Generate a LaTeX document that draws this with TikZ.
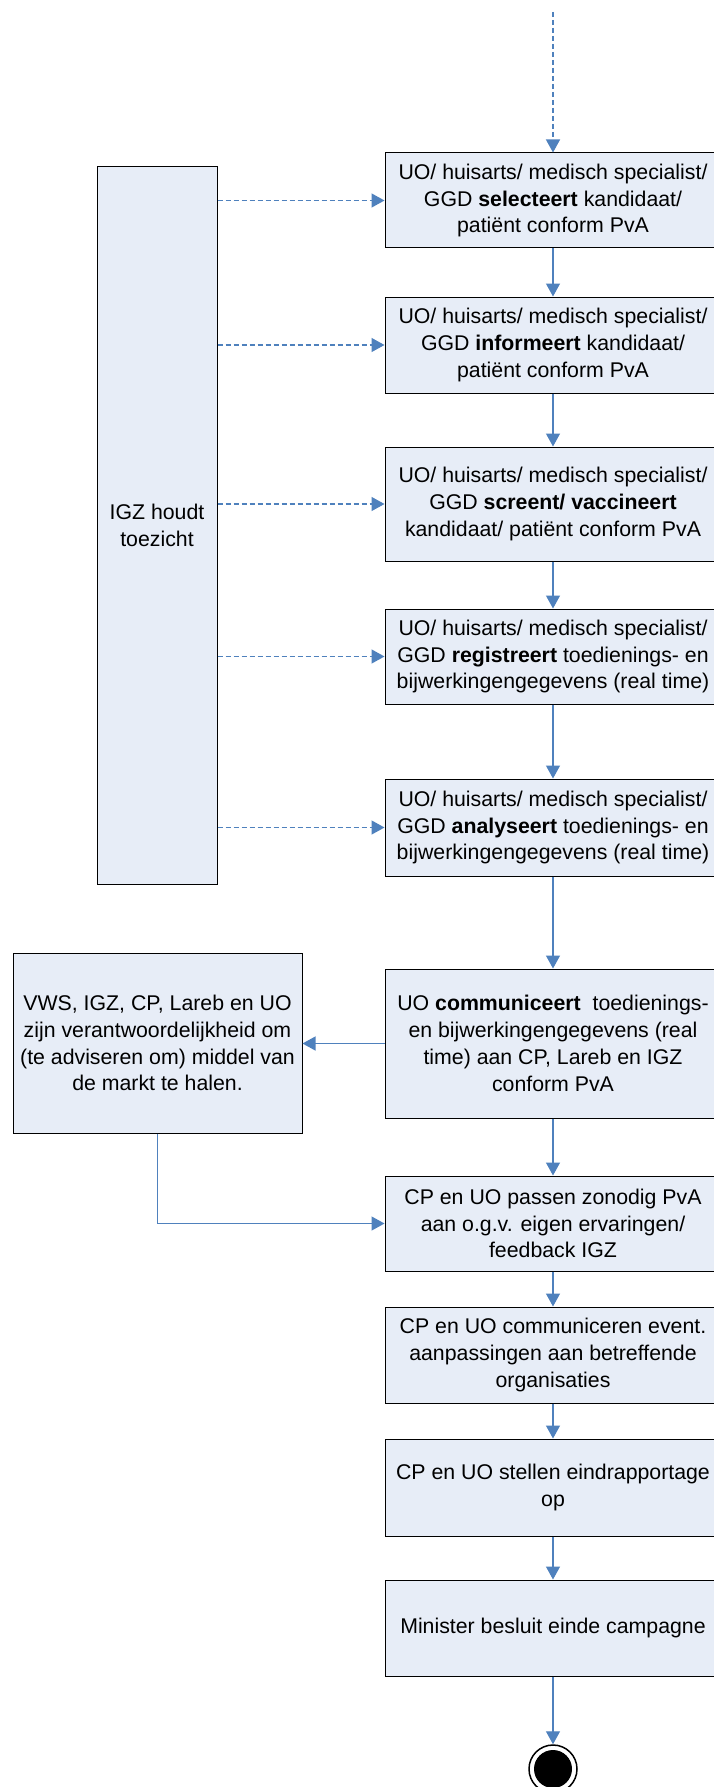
\documentclass[tikz,border=0pt]{standalone}
\usepackage{fontspec}
\setmainfont{Liberation Sans}
\usetikzlibrary{arrows.meta}
\definecolor{boxfill}{HTML}{E7EDF7}
\definecolor{flowblue}{HTML}{4F81BD}
\begin{document}
\begin{tikzpicture}[x=1pt,y=-1pt,
    stepbox/.style={draw=black,line width=1pt,fill=boxfill,inner sep=0pt,
      minimum width=336pt,align=center,font=\fontsize{21.3}{26.8}\selectfont},
    flow/.style={flowblue,line width=1.3pt,-{Triangle[width=14pt,length=13pt]}},
    watch/.style={flow,dash pattern=on 5pt off 3pt},
    endnode/.style={circle,draw=black,line width=1.5pt,fill=white,minimum size=48pt,inner sep=0pt,
      path picture={\fill[black] (path picture bounding box.center) circle (19pt);}}]
  \path[use as bounding box,fill=white] (0,0) rectangle (713,1787);

  \coordinate (start) at (553,12);
  \node[stepbox,minimum height=95pt]  (sel)  at (553,200.5)  {UO/ huisarts/ medisch specialist/\\GGD \textbf{selecteert} kandidaat/\\patiënt conform PvA};
  \node[stepbox,minimum height=96pt]  (inf)  at (553,345)    {UO/ huisarts/ medisch specialist/\\GGD \textbf{informeert} kandidaat/\\patiënt conform PvA};
  \node[stepbox,minimum height=114pt] (scr)  at (553,504)    {UO/ huisarts/ medisch specialist/\\GGD \textbf{screent/ vaccineert}\\kandidaat/ patiënt conform PvA};
  \node[stepbox,minimum height=95pt]  (reg)  at (553,656.5)  {UO/ huisarts/ medisch specialist/\\GGD \textbf{registreert} toedienings- en\\bijwerkingengegevens (real time)};
  \node[stepbox,minimum height=97pt]  (ana)  at (553,827.5)  {UO/ huisarts/ medisch specialist/\\GGD \textbf{analyseert} toedienings- en\\bijwerkingengegevens (real time)};
  \node[stepbox,minimum height=149pt] (com)  at (553,1043.5) {UO \textbf{communiceert}\ \ toedienings-\\en bijwerkingengegevens (real\\time) aan CP, Lareb en IGZ\\conform PvA};
  \node[stepbox,minimum height=95pt]  (pas)  at (553,1223.5) {CP en UO passen zonodig PvA\\aan o.g.v. eigen ervaringen/\\feedback IGZ};
  \node[stepbox,minimum height=96pt]  (aanp) at (553,1355)   {CP en UO communiceren event.\\aanpassingen aan betreffende\\organisaties};
  \node[stepbox,minimum height=97pt]  (rap)  at (553,1487.5) {CP en UO stellen eindrapportage\\op};
  \node[stepbox,minimum height=96pt]  (min)  at (553,1628)   {Minister besluit einde campagne};
  \node[endnode] (end) at (553,1769) {};

  \node[stepbox,minimum width=120pt,minimum height=717pt] (igz) at (157,525.5) {IGZ houdt\\toezicht};
  \node[stepbox,minimum width=289pt,minimum height=180pt] (vws) at (157.5,1043) {VWS, IGZ, CP, Lareb en UO\\zijn verantwoordelijkheid om\\(te adviseren om) middel van\\de markt te halen.};

  \draw[watch] (start) -- (sel);
  \foreach \a/\b in {sel/inf,inf/scr,scr/reg,reg/ana,ana/com,com/pas,pas/aanp,aanp/rap,rap/min,min/end}
    \draw[flow] (\a) -- (\b);
  \foreach \b in {sel,inf,scr,reg,ana}
    \draw[watch] (igz.east |- \b) -- (\b.west); % toezicht
  \draw[flow] (com.west) -- (com.west -| vws.east);
  \draw[flow] (vws.south) |- (pas.west);
\end{tikzpicture}
\end{document}
